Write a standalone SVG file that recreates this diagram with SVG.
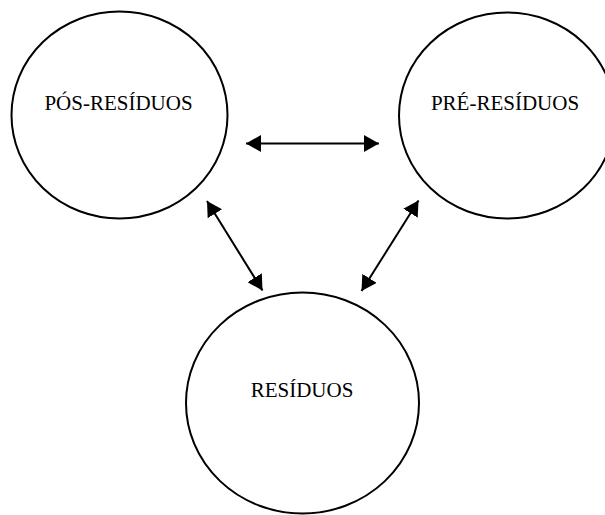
<svg xmlns="http://www.w3.org/2000/svg" width="605" height="515" viewBox="0 0 605 515">
  <style>
    .node ellipse { fill: #ffffff; stroke: #000000; stroke-width: 2; }
    .node text { font-family: "Liberation Serif", "Times New Roman", serif; font-size: 21px; fill: #000000; text-anchor: middle; }
    .link { stroke: #000000; stroke-width: 2; fill: none; marker-start: url(#head); marker-end: url(#head); }
  </style>
  <defs>
    <marker id="head" markerUnits="userSpaceOnUse" markerWidth="16" markerHeight="17" viewBox="0 0 16 17" refX="15" refY="8.5" orient="auto-start-reverse">
      <path d="M0,0 L15,8.5 L0,17 Z" fill="#000000"/>
    </marker>
  </defs>

  <rect width="605" height="515" fill="#ffffff"/>

  <g id="connectors">
    <line class="link" x1="246" y1="143.5" x2="379" y2="143.5"/>
    <line class="link" x1="207" y1="201" x2="262.5" y2="290.5"/>
    <line class="link" x1="418.5" y1="200.5" x2="361.5" y2="291"/>
  </g>

  <g id="pos-residuos" class="node">
    <ellipse cx="119.5" cy="115" rx="108" ry="103.5"/>
    <text x="118.5" y="110">PÓS-RESÍDUOS</text>
  </g>

  <g id="pre-residuos" class="node">
    <ellipse cx="507" cy="115.5" rx="108" ry="103"/>
    <text x="505" y="110">PRÉ-RESÍDUOS</text>
  </g>

  <g id="residuos" class="node">
    <ellipse cx="302.5" cy="403" rx="116.5" ry="110.5"/>
    <text x="302" y="397">RESÍDUOS</text>
  </g>
</svg>
